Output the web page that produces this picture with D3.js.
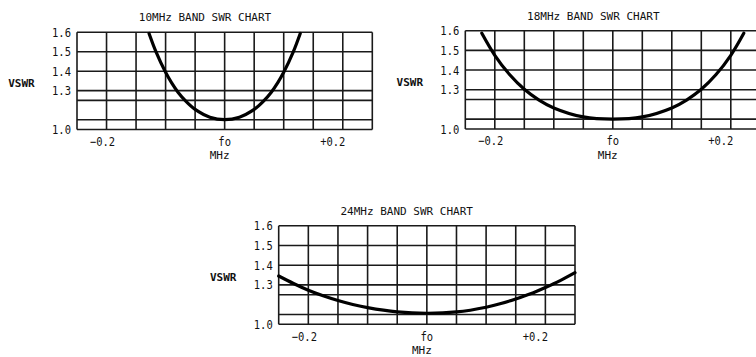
<!DOCTYPE html>
<html>
<head>
<meta charset="utf-8">
<script src="https://cdn.jsdelivr.net/npm/d3@7"></script>
<style>
  body { margin: 0; background: #fff; }
  text { font-family: "DejaVu Sans Mono", monospace; fill: #111; }
</style>
</head>
<body>
<script>
// grid and labels
var xGrid = [-0.25, -0.2, -0.15, -0.1, -0.05, 0, 0.05, 0.1, 0.15, 0.2, 0.25];
var yGrid = [1.0, 1.1, 1.25, 1.3, 1.4, 1.5, 1.6];
var yLabels = [1.0, 1.3, 1.4, 1.5, 1.6];
var xLabelValues = [-0.2, 0, 0.2];
var xLabelText = ["\u22120.2", "fo", "+0.2"];

// curves: offset from fo (MHz) and VSWR
var f10 = [-0.128, -0.116, -0.1, -0.09, -0.079, -0.065, -0.05, -0.025, 0, 0.025, 0.05, 0.065, 0.079, 0.09, 0.1, 0.116, 0.128];
var swr10 = [1.594, 1.498, 1.394, 1.341, 1.292, 1.24, 1.18, 1.12, 1.101, 1.12, 1.18, 1.24, 1.292, 1.341, 1.394, 1.498, 1.594];

var f18 = [-0.222, -0.2, -0.175, -0.15, -0.125, -0.1, -0.05, 0, 0.05, 0.1, 0.125, 0.15, 0.175, 0.2, 0.222];
var swr18 = [1.587, 1.475, 1.377, 1.302, 1.246, 1.186, 1.117, 1.1, 1.117, 1.186, 1.246, 1.302, 1.377, 1.475, 1.587];

var f24 = [-0.25, -0.225, -0.2, -0.175, -0.15, -0.125, -0.1, -0.05, 0, 0.05, 0.1, 0.125, 0.15, 0.175, 0.2, 0.225, 0.25];
var swr24 = [1.345, 1.307, 1.273, 1.242, 1.206, 1.176, 1.152, 1.12, 1.109, 1.119, 1.155, 1.183, 1.218, 1.255, 1.287, 1.322, 1.362];

var width = 756,
  height = 357;

var svg = d3.select("body").append("svg")
  .attr("width", width)
  .attr("height", height);

var charts = [
  { title: "10MHz BAND SWR CHART", f: f10, s: swr10, left: 77, top: 32.3, w: 295.3, h: 97.2 },
  { title: "18MHz BAND SWR CHART", f: f18, s: swr18, left: 465.3, top: 30.7, w: 295, h: 98.3 },
  { title: "24MHz BAND SWR CHART", f: f24, s: swr24, left: 278.7, top: 225.8, w: 296.3, h: 98.5 }
];

function condensed(sel, x, y, k) {
  sel.attr("transform", "translate(" + x + "," + y + ") scale(" + k + ",1)");
}

charts.forEach(function (c) {
  var x = d3.scaleLinear().domain([-0.25, 0.25]).range([c.left, c.left + c.w]);
  var u = c.h / 5;
  // chart paper is not linear in VSWR: piecewise between the printed lines
  var y = d3.scaleLinear()
    .domain(yGrid)
    .range([5, 4.5, 3.5, 3, 2, 1, 0].map(function (k) { return c.top + k * u; }));

  var g = svg.append("g");

  g.selectAll(".hline")
    .data(yGrid)
    .enter().append("line")
    .attr("x1", c.left).attr("x2", c.left + c.w)
    .attr("y1", function (d) { return y(d); })
    .attr("y2", function (d) { return y(d); })
    .attr("stroke", "#1a1a1a")
    .attr("stroke-width", 1.6);

  g.selectAll(".vline")
    .data(xGrid)
    .enter().append("line")
    .attr("x1", function (d) { return x(d); })
    .attr("x2", function (d) { return x(d); })
    .attr("y1", c.top).attr("y2", c.top + c.h)
    .attr("stroke", "#1a1a1a")
    .attr("stroke-width", 1.6);

  var pts = c.f.map(function (d, i) { return [d, c.s[i]]; });
  var line = d3.line()
    .curve(d3.curveCatmullRom.alpha(0.5))
    .x(function (d) { return x(d[0]); })
    .y(function (d) { return y(d[1]); });

  g.append("path")
    .datum(pts)
    .attr("d", line)
    .attr("fill", "none")
    .attr("stroke", "#000")
    .attr("stroke-width", 3.2)
    .attr("stroke-linecap", "round");

  // y tick labels
  g.selectAll(".ylab")
    .data(yLabels)
    .enter().append("text")
    .attr("text-anchor", "end")
    .attr("dy", "0.36em")
    .style("font-size", "12.5px")
    .text(function (d) { return d.toFixed(1); })
    .each(function (d) { condensed(d3.select(this), c.left - 6, y(d), 0.84); });

  // x labels
  g.selectAll(".xlab")
    .data(xLabelValues)
    .enter().append("text")
    .attr("text-anchor", "middle")
    .style("font-size", "12.5px")
    .text(function (d, i) { return xLabelText[i]; })
    .each(function (d, i) {
      var dx = d < 0 ? -4 : (d > 0 ? -10 : 0);
      condensed(d3.select(this), x(d) + dx, c.top + c.h + 16.3, 0.84);
    });

  g.append("text")
    .attr("x", x(0) - 5)
    .attr("y", c.top + c.h + 29.5)
    .attr("text-anchor", "middle")
    .style("font-size", "11px")
    .text("MHz");

  g.append("text")
    .attr("x", c.left + 128)
    .attr("y", c.top - 11)
    .attr("text-anchor", "middle")
    .style("font-size", "11px")
    .text(c.title);

  g.append("text")
    .attr("x", c.left - 55.5)
    .attr("y", c.top + 55)
    .attr("text-anchor", "middle")
    .style("font-size", "11px")
    .style("font-weight", "bold")
    .text("VSWR");
});
</script>
</body>
</html>
